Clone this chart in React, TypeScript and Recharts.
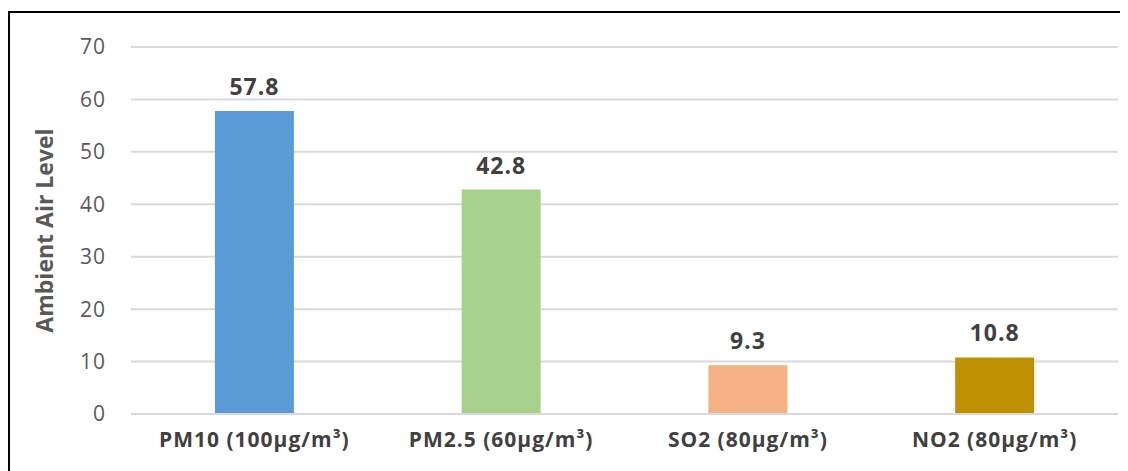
import React from 'react';
import { BarChart, Bar, XAxis, YAxis, CartesianGrid, Cell, LabelList } from 'recharts';

const categories = ['PM10 (100µg/m³)', 'PM2.5 (60µg/m³)', 'SO2 (80µg/m³)', 'NO2 (80µg/m³)'];
const levels = [57.8, 42.8, 9.3, 10.8];
const barColors = ['#5b9bd5', '#a9d18e', '#f4b183', '#bf9000'];
const yTicks = [0, 10, 20, 30, 40, 50, 60, 70];

const data = categories.map((name, i) => ({ name, value: levels[i] }));

const FONT = '"Open Sans", sans-serif';

export default function App() {
  return (
    <div style={{ width: 1120, height: 463, overflow: 'hidden', position: 'relative', fontFamily: FONT }}>
      <div
        style={{
          position: 'absolute',
          left: 0,
          top: 3,
          width: 1200,
          height: 600,
          borderTop: '2px solid #000',
          borderLeft: '2px solid #000',
        }}
      />
      <div style={{ position: 'absolute', left: 0, top: 0 }}>
        <BarChart
          width={1120}
          height={460}
          data={data}
          margin={{ top: 39, right: 10, bottom: 14, left: 0 }}
          barCategoryGap="34%"
        >
          <CartesianGrid vertical={false} stroke="#d9d9d9" strokeWidth={2} />
          <XAxis
            dataKey="name"
            axisLine={{ stroke: '#d9d9d9', strokeWidth: 2 }}
            tickLine={false}
            tickMargin={12}
            height={40}
            interval={0}
            tick={{ fontSize: 21, fontWeight: 700, fill: '#404040', fontFamily: FONT, letterSpacing: 1 }}
          />
          <YAxis
            domain={[0, 70]}
            ticks={yTicks}
            width={123}
            axisLine={false}
            tickLine={false}
            tickSize={0}
            tickMargin={25}
            tick={{ fontSize: 21, fill: '#595959', fontFamily: FONT, letterSpacing: 1 }}
            label={{
              value: 'Ambient Air Level',
              angle: -90,
              position: 'insideLeft',
              offset: 37,
              style: { textAnchor: 'middle', fontSize: 23, fontWeight: 700, fill: '#595959', fontFamily: FONT },
            }}
          />
          <Bar dataKey="value" isAnimationActive={false}>
            {data.map((d, i) => (
              <Cell key={d.name} fill={barColors[i]} />
            ))}
            <LabelList
              dataKey="value"
              position="top"
              offset={16}
              style={{ fontSize: 23, fontWeight: 700, fill: '#404040', fontFamily: FONT, letterSpacing: 1 }}
            />
          </Bar>
        </BarChart>
      </div>
    </div>
  );
}
